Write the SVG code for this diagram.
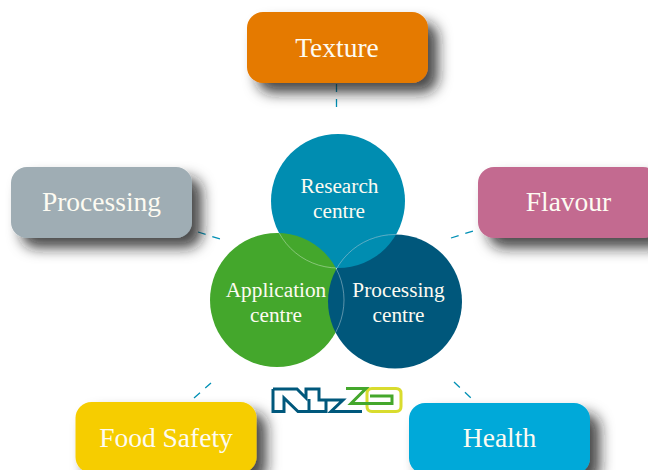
<svg xmlns="http://www.w3.org/2000/svg" width="648" height="470" viewBox="0 0 648 470">
<defs>
<filter id="sh" x="-20%" y="-30%" width="150%" height="170%"><feDropShadow dx="10" dy="10" stdDeviation="7" flood-color="#1a1a1a" flood-opacity="0.8"/></filter>
<clipPath id="cR"><circle cx="338" cy="201" r="67"/></clipPath>
<clipPath id="cG"><circle cx="277" cy="300" r="67"/></clipPath>
<clipPath id="cD"><circle cx="395" cy="301.5" r="67"/></clipPath>
</defs>
<style>
text{font-family:"Liberation Serif",serif;fill:#fdfbf2;text-anchor:middle}
.l{font-size:27.500px}.c{font-size:21.300px}
.b{filter:url(#sh)}
.d{fill:none;stroke:#0090b5;stroke-width:1.300;stroke-dasharray:8 7}
.a{fill:none;stroke:#fff;stroke-opacity:.45;stroke-width:.8}
.n{fill:none;stroke:#00587c;stroke-width:3;stroke-linejoin:miter}
.z{fill:none;stroke:#44a72c;stroke-width:3}
.o{fill:none;stroke:#d9dc2e;stroke-width:3}
</style>
<g id="connectors">
<path class="d" d="M336.500 84V114"/>
<path class="d" d="M198 232L220 239"/>
<path class="d" d="M451 238L473 231"/>
<path class="d" d="M194 398L211 383"/>
<path class="d" d="M454 382L471 398"/>
</g>
<g id="texture"><rect class="b" x="247" y="12" width="181" height="71" rx="16" fill="#e57a00"/><text class="l" x="337" y="56.500">Texture</text></g>
<g id="processing"><rect class="b" x="11" y="167" width="181" height="71" rx="16" fill="#9fadb4"/><text class="l" x="101.500" y="211">Processing</text></g>
<g id="flavour"><rect class="b" x="478" y="167" width="181" height="71" rx="16" fill="#c36b90"/><text class="l" x="568.500" y="211">Flavour</text></g>
<g id="food-safety"><rect class="b" x="75.500" y="402" width="181" height="71" rx="16" fill="#f6cd00"/><text class="l" x="166" y="447">Food Safety</text></g>
<g id="health"><rect class="b" x="409" y="403" width="181" height="71" rx="16" fill="#00a9d9"/><text class="l" x="499.500" y="447">Health</text></g>
<g id="research-centre"><circle cx="338" cy="201" r="67" fill="#008db1"/></g>
<g id="application-centre"><circle cx="277" cy="300" r="67" fill="#44a72c"/></g>
<g id="processing-centre"><circle cx="395" cy="301.500" r="67" fill="#00577b"/></g>
<g id="overlap"><circle cx="338" cy="201" r="67" fill="#008db1" clip-path="url(#cD)"/>
<circle class="a" cx="338" cy="201" r="67" clip-path="url(#cG)"/>
<circle class="a" cx="277" cy="300" r="67" clip-path="url(#cD)"/>
<circle class="a" cx="395" cy="301.500" r="67" clip-path="url(#cR)"/></g>
<g id="labels">
<text class="c" x="339.500" y="193">Research</text><text class="c" x="339" y="218">centre</text>
<text class="c" x="276" y="297">Application</text><text class="c" x="276" y="322">centre</text>
<text class="c" x="398.500" y="297">Processing</text><text class="c" x="398.500" y="322">centre</text>
</g>
<g id="logo">
<path class="o" d="M372 388.500H396Q401 388.500 401 393.500V406.500Q401 411.500 396 411.500H372Q367 411.500 367 406.500V393.500Q367 388.500 372 388.500Z"/>
<path class="z" d="M346 388.500H366L351 403.500H392V396H370"/>
<path class="n" d="M273 389H297L306 398V389H319V400H343L331 411.500H362"/>
<path class="n" d="M273 389V411.500H284V398L298 411.500H326V400M309 411.500V399"/>
</g>
</svg>
